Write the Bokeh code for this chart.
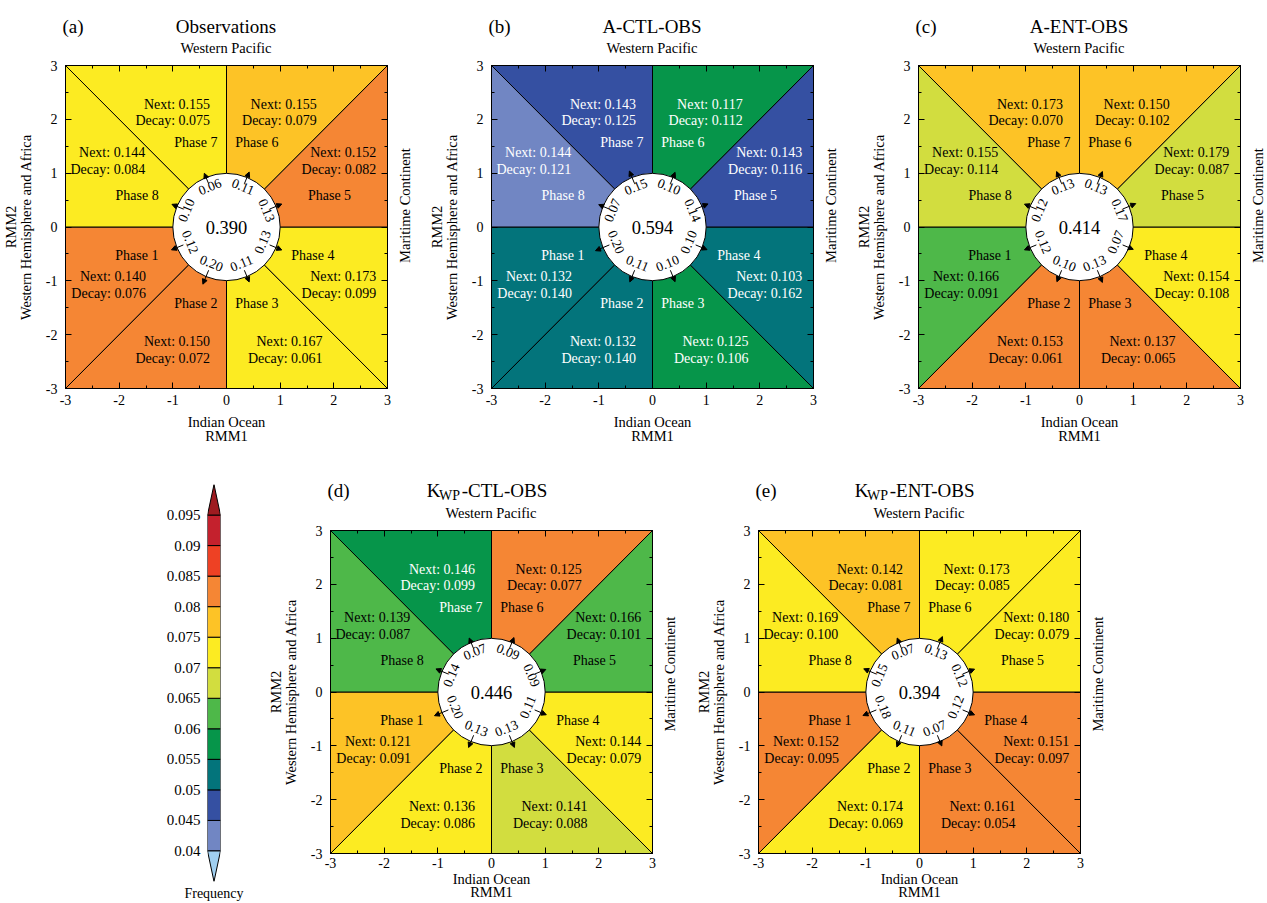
import numpy as np
from bokeh.plotting import figure
from bokeh.models import (ColumnDataSource, LinearAxis, SingleIntervalTicker, FixedTicker,
                          CustomJSTickFormatter, Arrow, NormalHead)
from bokeh.layouts import column, row
from bokeh.embed import file_html
from bokeh.resources import INLINE
from bokeh.core.properties import value

FONT = "Liberation Serif"

# ---------------- data ----------------
phases = [1, 2, 3, 4, 5, 6, 7, 8]

# colour-bar bins (Frequency)
cb_bounds = [0.04, 0.045, 0.05, 0.055, 0.06, 0.065, 0.07, 0.075, 0.08, 0.085, 0.09, 0.095]
cb_colors = ["#7186C3", "#3550A2", "#03747B", "#06954A", "#4EB849", "#D2DD3F",
             "#FCEB22", "#FDC326", "#F58634", "#EE4124", "#C4212D"]
cb_under = "#A0CFF0"
cb_over = "#9E1B20"

panel_letters = ["(a)", "(b)", "(c)", "(d)", "(e)"]
panel_titles = ["Observations", "A-CTL-OBS", "A-ENT-OBS", "-CTL-OBS", "-ENT-OBS"]

# panel (a) Observations
freq_a = [0.083, 0.082, 0.073, 0.072, 0.083, 0.078, 0.073, 0.072]
next_a = [0.140, 0.150, 0.167, 0.173, 0.152, 0.155, 0.155, 0.144]
decay_a = [0.076, 0.072, 0.061, 0.099, 0.082, 0.079, 0.075, 0.084]
ring_a = [0.12, 0.20, 0.11, 0.13, 0.13, 0.11, 0.06, 0.10]
total_a = 0.390

# panel (b) A-CTL-OBS
freq_b = [0.053, 0.052, 0.058, 0.053, 0.048, 0.057, 0.047, 0.043]
next_b = [0.132, 0.132, 0.125, 0.103, 0.143, 0.117, 0.143, 0.144]
decay_b = [0.140, 0.140, 0.106, 0.162, 0.116, 0.112, 0.125, 0.121]
ring_b = [0.20, 0.11, 0.10, 0.10, 0.14, 0.10, 0.15, 0.07]
total_b = 0.594

# panel (c) A-ENT-OBS
freq_c = [0.062, 0.083, 0.082, 0.073, 0.068, 0.078, 0.077, 0.067]
next_c = [0.166, 0.153, 0.137, 0.154, 0.179, 0.150, 0.173, 0.155]
decay_c = [0.091, 0.061, 0.065, 0.108, 0.087, 0.102, 0.070, 0.114]
ring_c = [0.12, 0.10, 0.13, 0.07, 0.17, 0.13, 0.13, 0.12]
total_c = 0.414

# panel (d) K_WP-CTL-OBS
freq_d = [0.078, 0.073, 0.067, 0.072, 0.063, 0.082, 0.058, 0.062]
next_d = [0.121, 0.136, 0.141, 0.144, 0.166, 0.125, 0.146, 0.139]
decay_d = [0.091, 0.086, 0.088, 0.079, 0.101, 0.077, 0.099, 0.087]
ring_d = [0.20, 0.13, 0.13, 0.11, 0.09, 0.09, 0.07, 0.14]
total_d = 0.446

# panel (e) K_WP-ENT-OBS
freq_e = [0.082, 0.072, 0.083, 0.082, 0.073, 0.072, 0.077, 0.074]
next_e = [0.152, 0.174, 0.161, 0.151, 0.180, 0.173, 0.142, 0.169]
decay_e = [0.095, 0.069, 0.054, 0.097, 0.079, 0.085, 0.081, 0.100]
ring_e = [0.18, 0.11, 0.07, 0.12, 0.12, 0.13, 0.07, 0.15]
total_e = 0.394

# ---------------- layout constants (positions only) ----------------
FRAME = 323
LEFT_B = 64
RIGHT_B = 8
NEXT_POS = [(-1.50, -0.92), (-0.307, -2.13), (1.79, -2.13), (2.79, -0.92),
            (2.79, 1.386), (1.68, 2.28), (-0.307, 2.28), (-1.516, 1.386)]
PHASE_POS = [(-1.67, -0.53), (-0.57, -1.42), (0.565, -1.42), (1.61, -0.53),
             (1.92, 0.586), (0.565, 1.565), (-0.57, 1.565), (-1.665, 0.586)]
DECAY_DY = -0.31


def bin_color(f):
    if f < cb_bounds[0]:
        return cb_under
    if f >= cb_bounds[-1]:
        return cb_over
    i = int(np.searchsorted(cb_bounds, f, side="right")) - 1
    return cb_colors[i]


def sector_poly(k):
    a0 = np.deg2rad(180 + 45 * k)
    a1 = a0 + np.pi / 4

    def edge(a):
        c, s = np.cos(a), np.sin(a)
        m = max(abs(c), abs(s))
        return 3 * c / m, 3 * s / m
    x0, y0 = edge(a0)
    x1, y1 = edge(a1)
    return [0, x0, x1], [0, y0, y1]


def style_axis(ax, show_labels):
    ax.ticker = SingleIntervalTicker(interval=1, num_minor_ticks=2)
    ax.major_tick_in = 6
    ax.major_tick_out = 0
    ax.minor_tick_in = 3
    ax.minor_tick_out = 0
    ax.axis_line_color = "black"
    ax.major_tick_line_color = "black"
    ax.minor_tick_line_color = "black"
    ax.major_label_text_font = FONT
    ax.major_label_text_color = "black"
    ax.axis_label_text_font = FONT
    ax.axis_label_text_font_size = "14.5px"
    ax.axis_label_text_font_style = "normal"
    ax.axis_label_text_color = "black"
    if show_labels:
        ax.major_label_text_font_size = "14px"
        ax.formatter = CustomJSTickFormatter(code="return tick.toFixed(0);")
    else:
        ax.major_label_text_font_size = "0px"
        ax.major_label_standoff = 0
        ax.formatter = CustomJSTickFormatter(code="return '';")


def make_panel(freq, nxt, dec, ring, total, height, bottom_b, tick_standoff, label_standoff, lh):
    width = LEFT_B + FRAME + RIGHT_B
    p = figure(width=width, height=height, x_range=(-3, 3), y_range=(-3, 3),
               output_backend="svg", toolbar_location=None,
               min_border_left=LEFT_B, min_border_right=RIGHT_B,
               min_border_top=8, min_border_bottom=bottom_b)
    p.grid.visible = False
    p.outline_line_color = "black"
    p.background_fill_color = "white"
    p.border_fill_color = "white"

    bx = p.xaxis[0]
    style_axis(bx, True)
    bx.major_label_standoff = tick_standoff
    bx.axis_label = "Indian Ocean\nRMM1"
    bx.axis_label_standoff = label_standoff
    bx.axis_label_text_line_height = lh

    ly = p.yaxis[0]
    style_axis(ly, True)
    ly.major_label_standoff = 8
    ly.axis_label = "RMM2\nWestern Hemisphere and Africa"
    ly.axis_label_standoff = 9
    ly.axis_label_text_line_height = 0.9

    top = LinearAxis()
    style_axis(top, False)
    p.add_layout(top, "above")

    right = LinearAxis()
    style_axis(right, False)
    p.add_layout(right, "right")

    # sectors
    xs, ys = [], []
    for k in range(8):
        sx, sy = sector_poly(k)
        xs.append(sx)
        ys.append(sy)
    fills = [bin_color(f) for f in freq]
    p.patches(xs=xs, ys=ys, fill_color=fills, line_color="black", line_width=1)

    tcol = ["white" if f < 0.06 else "black" for f in freq]

    src = ColumnDataSource(dict(
        x=[q[0] for q in NEXT_POS] * 2,
        y=[q[1] for q in NEXT_POS] + [q[1] + DECAY_DY for q in NEXT_POS],
        t=[f"Next: {v:.3f}" for v in nxt] + [f"Decay: {v:.3f}" for v in dec],
        c=tcol * 2))
    p.text(x="x", y="y", text="t", text_color="c", source=src, text_font=value(FONT),
           text_font_size="14px", text_align="right", text_baseline="middle")

    src2 = ColumnDataSource(dict(
        x=[q[0] for q in PHASE_POS], y=[q[1] for q in PHASE_POS],
        t=[f"Phase {ph}" for ph in phases], c=tcol))
    p.text(x="x", y="y", text="t", text_color="c", source=src2, text_font=value(FONT),
           text_font_size="14px", text_align="center", text_baseline="middle")

    # central circle
    p.circle(x=[0], y=[0], radius=1, fill_color="white", line_color="black", line_width=1)

    th = np.deg2rad(np.array([202.5 + 45 * k for k in range(8)]))
    upper = np.sin(th) > 0
    rad = np.where(upper, 0.80, 0.74)
    ang = np.where(upper, th - np.pi / 2, th + np.pi / 2)
    src3 = ColumnDataSource(dict(x=rad * np.cos(th), y=rad * np.sin(th), a=ang,
                                 t=[f"{v:.2f}" for v in ring]))
    p.text(x="x", y="y", text="t", angle="a", source=src3, text_font=value(FONT),
           text_font_size="13.5px", text_align="center", text_baseline="middle", text_color="black")

    r0 = 0.87
    r1 = 1.05 + 0.5 * np.array(ring)
    asrc = ColumnDataSource(dict(x0=r0 * np.cos(th), y0=r0 * np.sin(th),
                                 x1=r1 * np.cos(th), y1=r1 * np.sin(th)))
    p.add_layout(Arrow(source=asrc, x_start="x0", y_start="y0", x_end="x1", y_end="y1",
                       line_color="black", line_width=1,
                       end=NormalHead(size=5, fill_color="black", line_color="black", line_width=1)))

    p.text(x=[0], y=[0], text=[f"{total:.3f}"], text_font=value(FONT), text_font_size="18.5px",
           text_align="center", text_baseline="middle", text_color="black")
    return p


def make_strip(width, height, flip=True):
    yr = (height, 0) if flip else (0, height)
    s = figure(width=width, height=height, x_range=(0, width), y_range=yr,
               output_backend="svg", toolbar_location=None, x_axis_type=None, y_axis_type=None,
               min_border_left=0, min_border_right=0, min_border_top=0, min_border_bottom=0)
    s.grid.visible = False
    s.outline_line_color = None
    return s


def strip_text(s, xs, ys, texts, size, align, baseline, angle=0.0):
    s.text(x=xs, y=ys, text=texts, text_font=value(FONT), text_font_size=size,
           text_align=align, text_baseline=baseline, text_color="black", angle=angle)


def right_strip(width, height, x_center):
    s = make_strip(width, height, flip=False)
    strip_text(s, [x_center], [height - (8 + FRAME / 2)], ["Maritime Continent"],
               "14.5px", "center", "middle", angle=np.pi / 2)
    return s


def make_colorbar(width, height, top_b, bottom_b, left_b):
    p = figure(width=width, height=height, x_range=(0, 1), y_range=(0.035, 0.1),
               output_backend="svg", toolbar_location=None, x_axis_type=None,
               min_border_left=left_b, min_border_right=width - left_b - 13,
               min_border_top=top_b, min_border_bottom=bottom_b)
    p.grid.visible = False
    p.outline_line_color = None
    p.quad(left=0, right=1, bottom=cb_bounds[:-1], top=cb_bounds[1:], fill_color=cb_colors,
           line_color="black", line_width=1)
    step = cb_bounds[1] - cb_bounds[0]
    p.patches(xs=[[0, 1, 0.5], [0, 1, 0.5]],
              ys=[[cb_bounds[0], cb_bounds[0], cb_bounds[0] - step],
                  [cb_bounds[-1], cb_bounds[-1], cb_bounds[-1] + step]],
              fill_color=[cb_under, cb_over], line_color="black", line_width=1)
    ax = p.yaxis[0]
    ax.ticker = FixedTicker(ticks=cb_bounds)
    ax.formatter = CustomJSTickFormatter(code="return String(Number(tick.toFixed(3)));")
    ax.major_tick_line_color = None
    ax.minor_tick_line_color = None
    ax.axis_line_color = None
    ax.major_label_standoff = 1
    ax.major_label_text_font = FONT
    ax.major_label_text_font_size = "15px"
    ax.major_label_text_color = "black"
    bx = LinearAxis(ticker=FixedTicker(ticks=[]))
    bx.formatter = CustomJSTickFormatter(code="return '';")
    bx.major_label_text_font_size = "0px"
    bx.major_label_standoff = 0
    bx.major_tick_line_color = None
    bx.minor_tick_line_color = None
    bx.axis_line_color = None
    bx.axis_label = "Frequency"
    bx.axis_label_standoff = 4
    bx.axis_label_text_font = FONT
    bx.axis_label_text_font_size = "14px"
    bx.axis_label_text_font_style = "normal"
    bx.axis_label_text_color = "black"
    p.add_layout(bx, "below")
    return p


PW = LEFT_B + FRAME + RIGHT_B   # 395 panel figure width
# ---------------- row 1 ----------------
W = 1267
row1_starts = [0, 426, 853]
row1_frame_x = [s + LEFT_B for s in row1_starts]
strip1_h = 57
strip1 = make_strip(W, strip1_h)
c1 = [fx + FRAME / 2 for fx in row1_frame_x]
strip_text(strip1, [fx - 2 for fx in row1_frame_x], [26] * 3, panel_letters[:3], "19px", "left", "alphabetic")
strip_text(strip1, c1, [26] * 3, panel_titles[:3], "19px", "center", "alphabetic")
strip_text(strip1, c1, [47] * 3, ["Western Pacific"] * 3, "14.5px", "center", "middle")

H1 = 391
pa = make_panel(freq_a, next_a, decay_a, ring_a, total_a, H1, H1 - 8 - FRAME, 6, 6, 0.92)
pb = make_panel(freq_b, next_b, decay_b, ring_b, total_b, H1, H1 - 8 - FRAME, 6, 6, 0.92)
pc = make_panel(freq_c, next_c, decay_c, ring_c, total_c, H1, H1 - 8 - FRAME, 6, 6, 0.92)
ra = right_strip(426 - PW, H1, 17.3 - RIGHT_B)
rb = right_strip(853 - 426 - PW, H1, 17.3 - RIGHT_B)
rc = right_strip(W - 853 - PW, H1, 17.3 - RIGHT_B)

# ---------------- row 2 ----------------
CBW = 265
row2_h = 903 - strip1_h - H1          # 455
strip2_h = 74
H2 = row2_h - strip2_h                 # 381
row2_starts = [0, 428]
strip2 = make_strip(856, strip2_h)
c2 = [s + LEFT_B + FRAME / 2 for s in row2_starts]
strip_text(strip2, [cx - FRAME / 2 - 2 for cx in c2], [42] * 2, panel_letters[3:], "19px", "left", "alphabetic")
strip_text(strip2, [cx - 64.3 for cx in c2], [42] * 2, ["K", "K"], "19px", "left", "alphabetic")
strip_text(strip2, [cx - 52.0 for cx in c2], [47] * 2, ["WP", "WP"], "14px", "left", "alphabetic")
strip_text(strip2, [cx - 29.3 for cx in c2], [42] * 2, panel_titles[3:], "19px", "left", "alphabetic")
strip_text(strip2, c2, [64] * 2, ["Western Pacific"] * 2, "14.5px", "center", "middle")

pd_ = make_panel(freq_d, next_d, decay_d, ring_d, total_d, H2, H2 - 8 - FRAME, 4, 0, 0.85)
pe = make_panel(freq_e, next_e, decay_e, ring_e, total_e, H2, H2 - 8 - FRAME, 4, 0, 0.85)
rd = right_strip(428 - PW, H2, 17.3 - RIGHT_B)
re_ = right_strip(428 - PW, H2, 17.3 - RIGHT_B)

pcb = make_colorbar(CBW, row2_h, 36, row2_h - 36 - 397, 207)

layout = column(strip1,
                row(pa, ra, pb, rb, pc, rc),
                row(pcb, column(strip2, row(pd_, rd, pe, re_))))
open("out.html", "w").write(file_html(layout, INLINE))
